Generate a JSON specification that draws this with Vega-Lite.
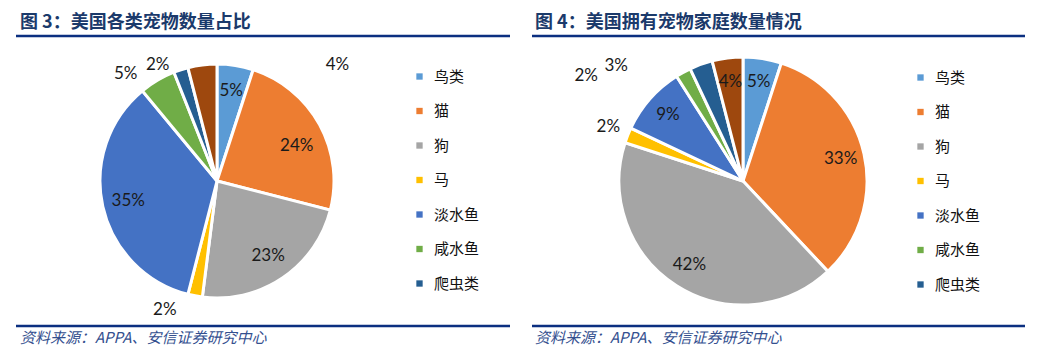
{
  "$schema": "https://vega.github.io/schema/vega-lite/v6.json",
  "autosize": {"type": "pad"},
  "padding": {"left": 14, "top": 14, "right": 0, "bottom": 0},
  "background": "white",
  "config": {"view": {"stroke": null}, "font": "Noto Sans CJK SC"},
  "datasets": {
    "fig3": [
      {"idx": 1, "cat": "鸟类", "value": 0.05},
      {"idx": 2, "cat": "猫", "value": 0.24},
      {"idx": 3, "cat": "狗", "value": 0.23},
      {"idx": 4, "cat": "马", "value": 0.02},
      {"idx": 5, "cat": "淡水鱼", "value": 0.35},
      {"idx": 6, "cat": "咸水鱼", "value": 0.05},
      {"idx": 7, "cat": "爬虫类", "value": 0.02},
      {"idx": 8, "cat": "其他", "value": 0.04}
    ],
    "fig4": [
      {"idx": 1, "cat": "鸟类", "value": 0.05},
      {"idx": 2, "cat": "猫", "value": 0.33},
      {"idx": 3, "cat": "狗", "value": 0.42},
      {"idx": 4, "cat": "马", "value": 0.02},
      {"idx": 5, "cat": "淡水鱼", "value": 0.09},
      {"idx": 6, "cat": "咸水鱼", "value": 0.02},
      {"idx": 7, "cat": "爬虫类", "value": 0.03},
      {"idx": 8, "cat": "其他", "value": 0.04}
    ]
  },
  "spacing": 114,
  "bounds": "flush",
  "resolve": {"scale": {"color": "independent", "theta": "independent"}, "legend": {"color": "independent"}},
  "hconcat": [
    {
      "width": 402,
      "height": 290,
      "data": {"name": "fig3"},
      "layer": [
        {
          "mark": {"type": "arc", "outerRadius": 117, "stroke": "white", "strokeWidth": 3},
          "encoding": {
            "theta": {"field": "value", "type": "quantitative", "stack": true},
            "order": {"field": "idx"},
            "color": {
              "field": "cat", "type": "nominal",
              "scale": {"domain": ["鸟类", "猫", "狗", "马", "淡水鱼", "咸水鱼", "爬虫类", "其他"], "range": ["#5B9BD5", "#ED7D31", "#A5A5A5", "#FFC000", "#4472C4", "#70AD47", "#255E91", "#9E480E"]},
              "legend": {"values": ["鸟类", "猫", "狗", "马", "淡水鱼", "咸水鱼", "爬虫类"], "orient": "none", "legendX": 396, "legendY": 33, "title": null, "symbolType": "square", "symbolSize": 40, "symbolStrokeWidth": 0, "labelFontSize": 15, "labelFont": "Noto Sans CJK SC", "labelColor": "#111", "rowPadding": 18.5, "labelOffset": 7, "padding": 0}
            }
          }
        },
        {
          "mark": {"type": "text", "radius": 91, "font": "Lato", "fontSize": 17, "color": "#1a1a1a", "baseline": "middle", "align": "center"},
          "encoding": {
            "theta": {"field": "value", "type": "quantitative", "stack": true},
            "order": {"field": "idx"},
            "text": {"condition": {"test": "indexof(['鸟类','狗','淡水鱼'], datum.cat) >= 0", "field": "value", "type": "quantitative", "format": ".0%"}, "value": ""}
          }
        },
        {
          "mark": {"type": "text", "radius": 91, "dy": 9, "font": "Lato", "fontSize": 17, "color": "#1a1a1a", "baseline": "middle", "align": "center"},
          "encoding": {
            "theta": {"field": "value", "type": "quantitative", "stack": true},
            "order": {"field": "idx"},
            "text": {"condition": {"test": "datum.cat === '猫'", "field": "value", "type": "quantitative", "format": ".0%"}, "value": ""}
          }
        },
        {
          "mark": {"type": "text", "radius": 140, "dx": -26, "dy": -9, "font": "Lato", "fontSize": 17, "color": "#1a1a1a", "baseline": "middle", "align": "center"},
          "encoding": {
            "theta": {"field": "value", "type": "quantitative", "stack": true},
            "order": {"field": "idx"},
            "text": {"condition": {"test": "datum.cat === '马'", "field": "value", "type": "quantitative", "format": ".0%"}, "value": ""}
          }
        },
        {
          "mark": {"type": "text", "radius": 140, "dx": -20, "dy": 14, "font": "Lato", "fontSize": 17, "color": "#1a1a1a", "baseline": "middle", "align": "center"},
          "encoding": {
            "theta": {"field": "value", "type": "quantitative", "stack": true},
            "order": {"field": "idx"},
            "text": {"condition": {"test": "datum.cat === '咸水鱼'", "field": "value", "type": "quantitative", "format": ".0%"}, "value": ""}
          }
        },
        {
          "mark": {"type": "text", "radius": 140, "dx": -16, "dy": 17, "font": "Lato", "fontSize": 17, "color": "#1a1a1a", "baseline": "middle", "align": "center"},
          "encoding": {
            "theta": {"field": "value", "type": "quantitative", "stack": true},
            "order": {"field": "idx"},
            "text": {"condition": {"test": "datum.cat === '爬虫类'", "field": "value", "type": "quantitative", "format": ".0%"}, "value": ""}
          }
        },
        {
          "mark": {"type": "text", "radius": 140, "dx": 138, "dy": 23, "font": "Lato", "fontSize": 17, "color": "#1a1a1a", "baseline": "middle", "align": "center"},
          "encoding": {
            "theta": {"field": "value", "type": "quantitative", "stack": true},
            "order": {"field": "idx"},
            "text": {"condition": {"test": "datum.cat === '其他'", "field": "value", "type": "quantitative", "format": ".0%"}, "value": ""}
          }
        },
        {
          "data": {"values": [{"t": "图 3：美国各类宠物数量占比"}]},
          "mark": {"type": "text", "align": "left", "baseline": "alphabetic", "fontSize": 18, "fontWeight": "bold", "color": "#1b3a6b", "font": "Noto Sans CJK SC"},
          "encoding": {"text": {"field": "t"}, "x": {"value": 4}, "y": {"value": -8}}
        },
        {
          "data": {"values": [{"pos": "top"}]},
          "mark": {"type": "rule", "color": "#0b2f80", "strokeWidth": 2.5},
          "encoding": {"x": {"value": 0}, "x2": {"value": 494}, "y": {"value": 0}}
        },
        {
          "data": {"values": [{"pos": "bottom"}]},
          "mark": {"type": "rule", "color": "#0b2f80", "strokeWidth": 2.5},
          "encoding": {"x": {"value": 0}, "x2": {"value": 494}, "y": {"value": 290}}
        },
        {
          "data": {"values": [{"t": "资料来源：APPA、安信证券研究中心"}]},
          "mark": {"type": "text", "align": "left", "baseline": "middle", "fontStyle": "italic", "fontSize": 15, "color": "#34508f", "font": "Noto Sans CJK SC"},
          "encoding": {"text": {"field": "t"}, "x": {"value": 4}, "y": {"value": 302}}
        }
      ]
    },
    {
      "width": 422,
      "height": 290,
      "data": {"name": "fig4"},
      "layer": [
        {
          "mark": {"type": "arc", "outerRadius": 124, "stroke": "white", "strokeWidth": 3},
          "encoding": {
            "theta": {"field": "value", "type": "quantitative", "stack": true},
            "order": {"field": "idx"},
            "color": {
              "field": "cat", "type": "nominal",
              "scale": {"domain": ["鸟类", "猫", "狗", "马", "淡水鱼", "咸水鱼", "爬虫类", "其他"], "range": ["#5B9BD5", "#ED7D31", "#A5A5A5", "#FFC000", "#4472C4", "#70AD47", "#255E91", "#9E480E"]},
              "legend": {"values": ["鸟类", "猫", "狗", "马", "淡水鱼", "咸水鱼", "爬虫类"], "orient": "none", "legendX": 381, "legendY": 34, "title": null, "symbolType": "square", "symbolSize": 40, "symbolStrokeWidth": 0, "labelFontSize": 15, "labelFont": "Noto Sans CJK SC", "labelColor": "#111", "rowPadding": 18.5, "labelOffset": 7, "padding": 0}
            }
          }
        },
        {
          "mark": {"type": "text", "radius": 100, "font": "Lato", "fontSize": 17, "color": "#1a1a1a", "baseline": "middle", "align": "center"},
          "encoding": {
            "theta": {"field": "value", "type": "quantitative", "stack": true},
            "order": {"field": "idx"},
            "text": {"condition": {"test": "indexof(['鸟类','猫','狗','淡水鱼','其他'], datum.cat) >= 0", "field": "value", "type": "quantitative", "format": ".0%"}, "value": ""}
          }
        },
        {
          "mark": {"type": "text", "radius": 147, "dx": 2, "font": "Lato", "fontSize": 17, "color": "#1a1a1a", "baseline": "middle", "align": "center"},
          "encoding": {
            "theta": {"field": "value", "type": "quantitative", "stack": true},
            "order": {"field": "idx"},
            "text": {"condition": {"test": "datum.cat === '马'", "field": "value", "type": "quantitative", "format": ".0%"}, "value": ""}
          }
        },
        {
          "mark": {"type": "text", "radius": 147, "dx": -86, "dy": 24, "font": "Lato", "fontSize": 17, "color": "#1a1a1a", "baseline": "middle", "align": "center"},
          "encoding": {
            "theta": {"field": "value", "type": "quantitative", "stack": true},
            "order": {"field": "idx"},
            "text": {"condition": {"test": "datum.cat === '咸水鱼'", "field": "value", "type": "quantitative", "format": ".0%"}, "value": ""}
          }
        },
        {
          "mark": {"type": "text", "radius": 147, "dx": -77, "dy": 23, "font": "Lato", "fontSize": 17, "color": "#1a1a1a", "baseline": "middle", "align": "center"},
          "encoding": {
            "theta": {"field": "value", "type": "quantitative", "stack": true},
            "order": {"field": "idx"},
            "text": {"condition": {"test": "datum.cat === '爬虫类'", "field": "value", "type": "quantitative", "format": ".0%"}, "value": ""}
          }
        },
        {
          "data": {"values": [{"t": "图 4：美国拥有宠物家庭数量情况"}]},
          "mark": {"type": "text", "align": "left", "baseline": "alphabetic", "fontSize": 18, "fontWeight": "bold", "color": "#1b3a6b", "font": "Noto Sans CJK SC"},
          "encoding": {"text": {"field": "t"}, "x": {"value": 3}, "y": {"value": -8}}
        },
        {
          "data": {"values": [{"pos": "top"}]},
          "mark": {"type": "rule", "color": "#0b2f80", "strokeWidth": 2.5},
          "encoding": {"x": {"value": 0}, "x2": {"value": 493}, "y": {"value": 0}}
        },
        {
          "data": {"values": [{"pos": "bottom"}]},
          "mark": {"type": "rule", "color": "#0b2f80", "strokeWidth": 2.5},
          "encoding": {"x": {"value": 0}, "x2": {"value": 493}, "y": {"value": 290}}
        },
        {
          "data": {"values": [{"t": "资料来源：APPA、安信证券研究中心"}]},
          "mark": {"type": "text", "align": "left", "baseline": "middle", "fontStyle": "italic", "fontSize": 15, "color": "#34508f", "font": "Noto Sans CJK SC"},
          "encoding": {"text": {"field": "t"}, "x": {"value": 3}, "y": {"value": 302}}
        }
      ]
    }
  ]
}
